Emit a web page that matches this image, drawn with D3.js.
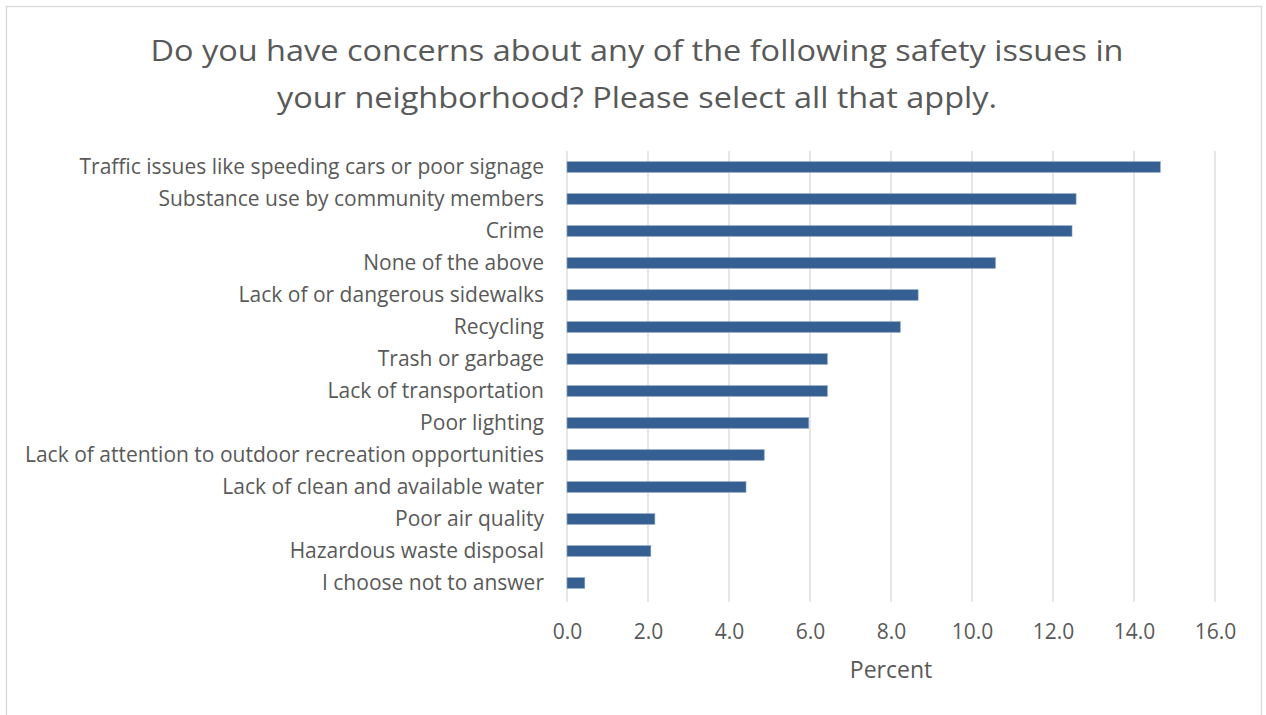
<!DOCTYPE html>
<html>
<head>
<meta charset="utf-8">
<script src="https://cdn.jsdelivr.net/npm/d3@7"></script>
<style>
  html, body { margin: 0; padding: 0; background: #fff; }
  svg { display: block; }
  text { font-family: "Open Sans", Lato, sans-serif; fill: #595959; }
</style>
</head>
<body>
<svg id="chart" width="1266" height="715"></svg>
<script>
// Survey responses, percent of respondents per concern
const categories = [
  "Traffic issues like speeding cars or poor signage",
  "Substance use by community members",
  "Crime",
  "None of the above",
  "Lack of or dangerous sidewalks",
  "Recycling",
  "Trash or garbage",
  "Lack of transportation",
  "Poor lighting",
  "Lack of attention to outdoor recreation opportunities",
  "Lack of clean and available water",
  "Poor air quality",
  "Hazardous waste disposal",
  "I choose not to answer"
];
const percents = [14.65, 12.57, 12.47, 10.58, 8.67, 8.23, 6.43, 6.43, 5.97, 4.87, 4.42, 2.17, 2.07, 0.44];
const xTicks = [0, 2, 4, 6, 8, 10, 12, 14, 16];
const titleLines = [
  "Do you have concerns about any of the following safety issues in",
  "your neighborhood? Please select all that apply."
];
const axisTitle = "Percent";

const svg = d3.select("#chart");
const W = 1266, H = 715;
const FONT = "'Open Sans', Lato, sans-serif";

// chart frame
svg.append("rect")
  .attr("x", 6.5).attr("y", 6.5)
  .attr("width", W - 11).attr("height", H - 4)
  .attr("fill", "#fff")
  .attr("stroke", "#d9d9d9")
  .attr("stroke-width", 1.3);

const plot = { left: 567, right: 1215, top: 151, bottom: 599 };

const x = d3.scaleLinear().domain([0, 16]).range([plot.left, plot.right]);
const y = d3.scaleBand().domain(categories).range([plot.top, plot.bottom]).paddingInner(0.665).paddingOuter(0.3325);

// vertical gridlines
svg.append("g")
  .selectAll("line")
  .data(xTicks)
  .join("line")
  .attr("x1", d => x(d)).attr("x2", d => x(d))
  .attr("y1", plot.top).attr("y2", plot.bottom + 3)
  .attr("stroke", "#d9d9d9")
  .attr("stroke-width", 1.3);

// bars
svg.append("g")
  .selectAll("rect")
  .data(percents)
  .join("rect")
  .attr("x", x(0))
  .attr("y", (d, i) => y(categories[i]))
  .attr("width", d => x(d) - x(0))
  .attr("height", y.bandwidth())
  .attr("fill", "#376092")
  .attr("stroke", "#8ea6c4")
  .attr("stroke-width", 0.6);

// category axis
const yAxis = svg.append("g")
  .attr("transform", `translate(${plot.left},0)`)
  .call(d3.axisLeft(y).tickSize(0).tickPadding(23));
yAxis.select(".domain").remove();
yAxis.selectAll("text")
  .attr("font-size", 21)
  .attr("fill", "#595959")
  .style("font-family", FONT);

// value axis
const xAxis = svg.append("g")
  .attr("transform", `translate(0,${plot.bottom})`)
  .call(d3.axisBottom(x).tickValues(xTicks).tickFormat(d3.format(".1f")).tickSize(0));
xAxis.select(".domain").remove();
xAxis.selectAll("text")
  .attr("y", 40)
  .attr("dy", null)
  .attr("font-size", 21)
  .attr("fill", "#595959")
  .style("font-family", FONT);

// axis title
svg.append("text")
  .attr("x", (plot.left + plot.right) / 2)
  .attr("y", 678)
  .attr("text-anchor", "middle")
  .attr("font-size", 23)
  .text(axisTitle);

// chart title
svg.append("g")
  .selectAll("text")
  .data(titleLines)
  .join("text")
  .attr("transform", (d, i) => `translate(637,${61 + i * 47}) scale(1.12,1)`)
  .attr("text-anchor", "middle")
  .attr("font-size", 29)
  .text(d => d);
</script>
</body>
</html>
